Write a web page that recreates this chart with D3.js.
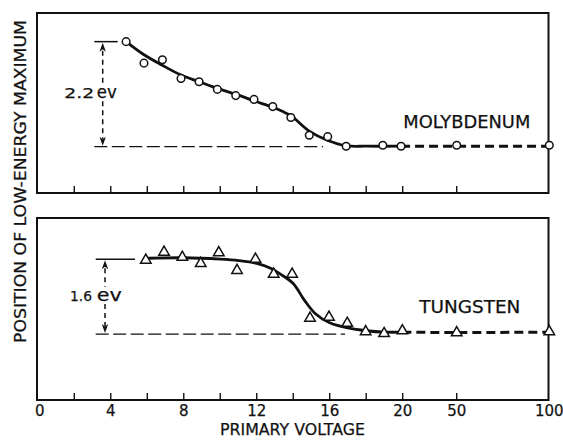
<!DOCTYPE html>
<html><head><meta charset="utf-8">
<script src="https://cdn.jsdelivr.net/npm/d3@7"></script>
<style>
html,body{margin:0;padding:0;background:#fff;}
svg{display:block;}
text{font-family:"DejaVu Sans","Liberation Sans",sans-serif;fill:#111;stroke:#111;stroke-width:0.25;}
</style></head>
<body>
<script>
// ---------- data ----------
const tickValues = [2,4,6,8,10,12,14,16,18,20,50];
const tickLabelValues = [0,4,8,12,16,20,50,100];
const tickLabels = ["0","4","8","12","16","20","50","100"];

// Molybdenum (circles)
const moVolt = [4.84,5.82,6.83,7.85,8.84,9.84,10.85,11.85,12.88,13.87,14.88,15.89,16.9,18.91,19.91,50,100];
const moEv   = [2.2,1.75,1.82,1.43,1.36,1.20,1.07,0.99,0.84,0.61,0.24,0.21,0.01,0.03,0.01,0.03,0.03];
const moFitVolt = [4.84,5.8,6.8,7.85,8.85,9.85,10.85,11.85,12.85,13.4,13.9,14.9,15.9,16.9,18,19.91];
const moFitEv   = [2.2,1.93,1.71,1.5,1.36,1.22,1.10,0.96,0.83,0.74,0.64,0.32,0.13,0.02,0.01,0.01];
const moTailVolt = [19.91,50,100];
const moTailEv   = [0.01,0.01,0.01];
const moShift = 2.2;

// Tungsten (triangles)
const wVolt = [5.92,6.92,7.92,8.93,9.92,10.92,11.93,12.93,13.94,14.92,15.96,16.96,17.97,18.98,19.98,50,100];
const wEv   = [1.58,1.75,1.64,1.51,1.74,1.36,1.60,1.28,1.28,0.34,0.36,0.23,0.05,0.01,0.07,0.03,0.05];
const wFitVolt = [6.05,8,10,11,12,12.73,13.3,14.0,14.6,15.2,16,17,18,19,19.98];
const wFitEv   = [1.62,1.63,1.6,1.57,1.51,1.41,1.28,1.08,0.73,0.44,0.24,0.13,0.07,0.04,0.04];
const wTailVolt = [19.98,50,100];
const wTailEv   = [0.04,0.03,0.04];
const wShift = 1.6;

const width = 563, height = 440;
const svg = d3.select("body").append("svg").attr("width",width).attr("height",height);

const x = d3.scaleLinear().domain([0,20,50,100]).range([37.8,402.7,456.7,549.3]);
const frameL = 37, frameR = 548.5;

const panels = [
  {name:"MOLYBDENUM", y:d3.scaleLinear().domain([-0.97,2.80]).range([193,13]), top:13, bottom:193,
   volt:moVolt, ev:moEv, fitV:moFitVolt, fitE:moFitEv, tailV:moTailVolt, tailE:moTailEv,
   shift:moShift, shiftLabel:"2.2", marker:"circle",
   baseX0:94.3, baseX1:323, topX1:117.7, arrowX:102.7, lblX0:64.3, lblNumW:30, evX:96.7, evW:20, lblBase:98.3,
   nameX:403.3, nameW:127, nameBase:128.3},
  {name:"TUNGSTEN", y:d3.scaleLinear().domain([-1.41,2.48]).range([400,218]), top:218, bottom:400,
   volt:wVolt, ev:wEv, fitV:wFitVolt, fitE:wFitEv, tailV:wTailVolt, tailE:wTailEv,
   shift:wShift, shiftLabel:"1.6", marker:"triangle",
   baseX0:95.7, baseX1:345, topX1:135, arrowX:105, lblX0:70, lblNumW:22, evX:96.7, evW:25, lblBase:301,
   nameX:419.3, nameW:101, nameBase:313.3}
];

panels.forEach(p => {
  const g = svg.append("g");
  const y = p.y;
  g.append("rect").attr("x",frameL).attr("y",p.top).attr("width",frameR-frameL).attr("height",p.bottom-p.top)
    .attr("fill","none").attr("stroke","#111").attr("stroke-width",2);
  g.selectAll("line.tick").data(tickValues).join("line")
    .attr("x1",d=>x(d)).attr("x2",d=>x(d)).attr("y1",p.bottom).attr("y2",p.bottom-7)
    .attr("stroke","#111").attr("stroke-width",1.4);
  g.append("line").attr("x1",p.baseX0).attr("x2",p.baseX1).attr("y1",y(0)).attr("y2",y(0))
    .attr("stroke","#111").attr("stroke-width",1.3).attr("stroke-dasharray","13,4.5");
  g.append("line").attr("x1",p.baseX0).attr("x2",p.topX1).attr("y1",y(p.shift)).attr("y2",y(p.shift))
    .attr("stroke","#111").attr("stroke-width",1.5);
  const yt = y(p.shift), yb = y(0);
  const mid = p.lblBase - 5;
  g.append("line").attr("x1",p.arrowX).attr("x2",p.arrowX).attr("y1",yt+9).attr("y2",mid-9)
    .attr("stroke","#111").attr("stroke-width",1.5).attr("stroke-dasharray","5,4");
  g.append("line").attr("x1",p.arrowX).attr("x2",p.arrowX).attr("y1",mid+8).attr("y2",yb-8)
    .attr("stroke","#111").attr("stroke-width",1.5).attr("stroke-dasharray","5,4");
  g.append("path").attr("d",`M${p.arrowX},${yt+1}L${p.arrowX-3.2},${yt+10}L${p.arrowX},${yt+7.5}L${p.arrowX+3.2},${yt+10}Z`).attr("fill","#111");
  g.append("path").attr("d",`M${p.arrowX},${yb-1}L${p.arrowX-3.2},${yb-10}L${p.arrowX},${yb-7.5}L${p.arrowX+3.2},${yb-10}Z`).attr("fill","#111");
  g.append("text").attr("x",p.lblX0).attr("y",p.lblBase).attr("font-size",14)
    .attr("textLength",p.lblNumW).attr("lengthAdjust","spacingAndGlyphs").text(p.shiftLabel);
  g.append("text").attr("x",p.evX).attr("y",p.lblBase).attr("font-size",17)
    .attr("textLength",p.evW).attr("lengthAdjust","spacingAndGlyphs").text("ev");
  const fit = p.fitV.map((v,i)=>[v,p.fitE[i]]);
  const line = d3.line().x(d=>x(d[0])).y(d=>y(d[1])).curve(d3.curveCatmullRom.alpha(0.5));
  g.append("path").attr("d",line(fit)).attr("fill","none").attr("stroke","#111").attr("stroke-width",2.8);
  const tail = p.tailV.map((v,i)=>[v,p.tailE[i]]);
  g.append("path").attr("d",d3.line().x(d=>x(d[0])).y(d=>y(d[1]))(tail)).attr("fill","none")
    .attr("stroke","#111").attr("stroke-width",3).attr("stroke-dasharray","9,5");
  const pts = p.volt.map((v,i)=>[v,p.ev[i]]);
  if (p.marker==="circle") {
    g.selectAll("circle.pt").data(pts).join("circle")
      .attr("cx",d=>x(d[0])).attr("cy",d=>y(d[1])).attr("r",3.8)
      .attr("fill","#fff").attr("stroke","#111").attr("stroke-width",1.5);
  } else {
    const sym = d3.symbol().type(d3.symbolTriangle).size(48);
    g.selectAll("path.pt").data(pts).join("path")
      .attr("d",sym).attr("transform",d=>`translate(${x(d[0])},${y(d[1])})`)
      .attr("fill","#fff").attr("stroke","#111").attr("stroke-width",1.5);
  }
  g.append("text").attr("x",p.nameX).attr("y",p.nameBase).attr("font-size",17)
    .attr("textLength",p.nameW).attr("lengthAdjust","spacingAndGlyphs").text(p.name);
});

svg.selectAll("text.tl").data(tickLabelValues).join("text")
  .attr("x",d=>x(d)+ (d===0?2:0)).attr("y",416).attr("text-anchor","middle").attr("font-size",15)
  .text((d,i)=>tickLabels[i]);

svg.append("text").attr("x",220).attr("y",435).attr("font-size",16)
  .attr("textLength",145).attr("lengthAdjust","spacingAndGlyphs").text("PRIMARY VOLTAGE");
svg.append("text").attr("transform","translate(26,343) rotate(-90)").attr("font-size",15)
  .attr("textLength",323).attr("lengthAdjust","spacingAndGlyphs").text("POSITION OF LOW-ENERGY MAXIMUM");
</script>
</body></html>
